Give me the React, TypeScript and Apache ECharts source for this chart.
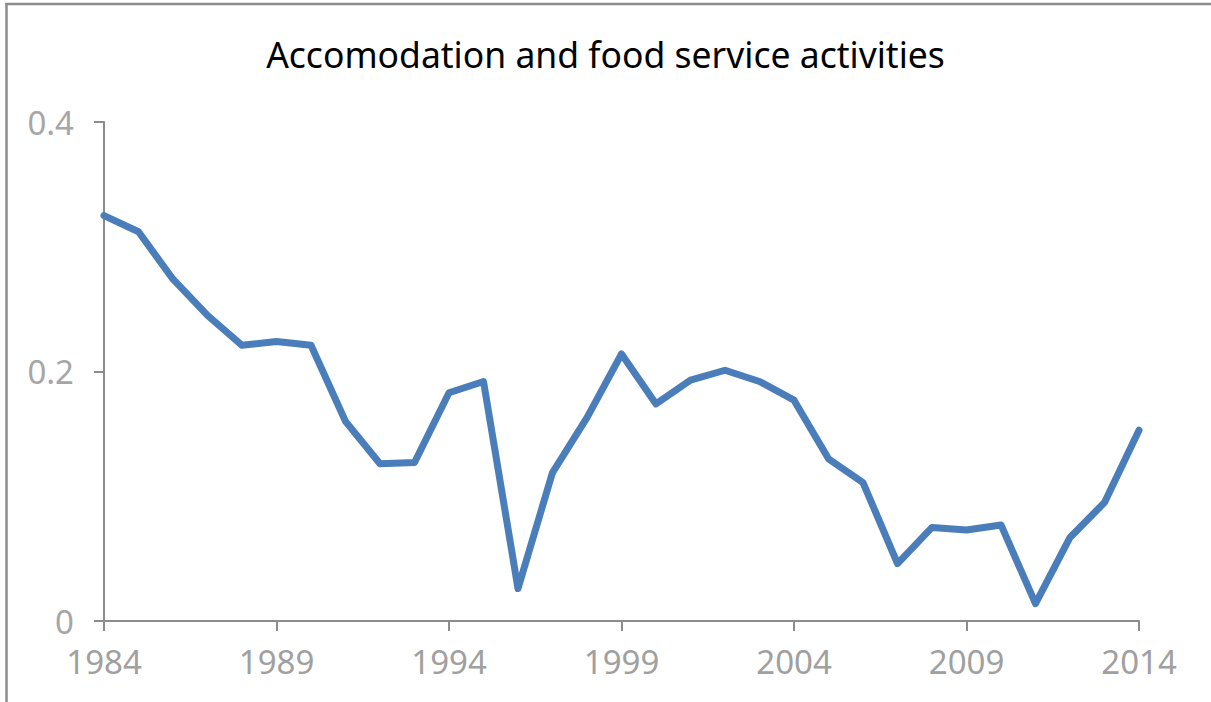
import React, { useEffect, useRef } from "react";
import * as echarts from "echarts";

const years: string[] = [
  "1984","1985","1986","1987","1988","1989","1990","1991","1992","1993",
  "1994","1995","1996","1997","1998","1999","2000","2001","2002","2003",
  "2004","2005","2006","2007","2008","2009","2010","2011","2012","2013","2014",
];
const values: number[] = [
  0.325, 0.312, 0.274, 0.245, 0.221, 0.224, 0.221, 0.160, 0.126, 0.127,
  0.183, 0.192, 0.026, 0.119, 0.163, 0.214, 0.174, 0.193, 0.201, 0.192,
  0.177, 0.130, 0.111, 0.046, 0.075, 0.073, 0.077, 0.014, 0.067, 0.095, 0.153,
];
const yTicks: number[] = [0, 0.2, 0.4];
const titleText = "Accomodation and food service activities";

export default function App() {
  const ref = useRef<HTMLDivElement>(null);
  useEffect(() => {
    if (!ref.current) return;
    const chart = echarts.init(ref.current, undefined, { renderer: "svg" });
    const font = "'Noto Sans', 'Open Sans', sans-serif";
    chart.setOption({
      animation: false,
      backgroundColor: "#ffffff",
      title: {
        text: titleText,
        left: "center",
        top: 31,
        textStyle: { fontFamily: font, fontSize: 35.5, fontWeight: "normal", color: "#000000" },
      },
      graphic: [
        {
          type: "line",
          shape: { x1: 6.5, y1: 3, x2: 6.5, y2: 702 },
          style: { stroke: "#8c8c8c", lineWidth: 2.5 },
          silent: true,
        },
        {
          type: "line",
          shape: { x1: 5.5, y1: 4, x2: 1211, y2: 4 },
          style: { stroke: "#8c8c8c", lineWidth: 2.5 },
          silent: true,
        },
      ],
      grid: { left: 104, right: 72, top: 122, bottom: 81, containLabel: false },
      xAxis: {
        type: "category",
        data: years,
        boundaryGap: false,
        axisLine: { show: true, lineStyle: { color: "#8c8c8c", width: 2 } },
        axisTick: { show: true, interval: 4, length: 10, lineStyle: { color: "#8c8c8c", width: 2 } },
        axisLabel: { interval: 4, color: "#a0a0a0", fontSize: 33, fontFamily: font, margin: 24 },
        splitLine: { show: false },
      },
      yAxis: {
        type: "value",
        min: 0,
        max: 0.4,
        interval: 0.2,
        axisLine: { show: true, lineStyle: { color: "#8c8c8c", width: 2 } },
        axisTick: { show: true, length: 10, lineStyle: { color: "#8c8c8c", width: 2 } },
        axisLabel: {
          color: "#a6a6a6",
          fontSize: 33,
          fontFamily: font,
          margin: 30,
          formatter: (v: number) => (yTicks.includes(Number(v.toFixed(1))) ? String(Number(v.toFixed(1))) : ""),
        },
        splitLine: { show: false },
      },
      series: [
        {
          type: "line",
          data: values,
          showSymbol: false,
          symbol: "none",
          lineStyle: { color: "#4a7ebb", width: 7, join: "round", cap: "round" },
        },
      ],
    });
    return () => chart.dispose();
  }, []);
  return (
    <div
      ref={ref}
      style={{ position: "fixed", left: 0, top: 0, width: 1211, height: 702 }}
    />
  );
}
